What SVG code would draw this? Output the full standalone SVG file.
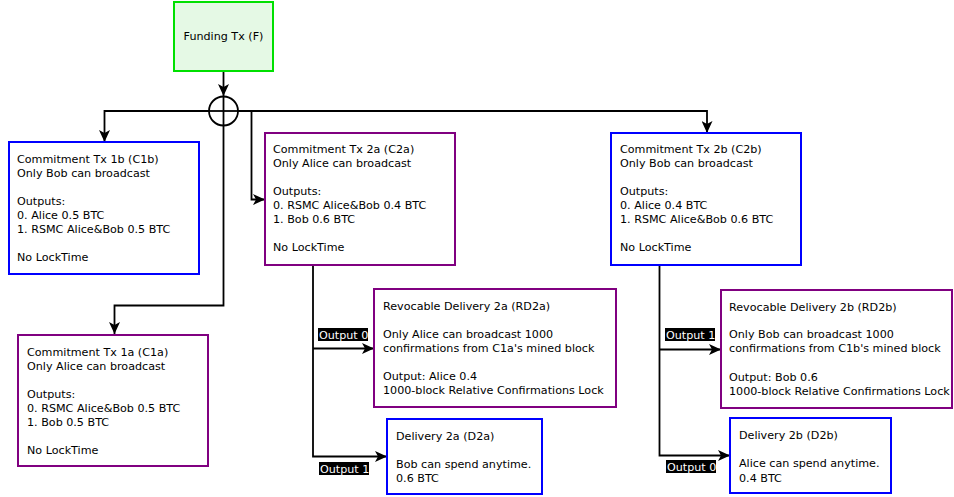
<svg xmlns="http://www.w3.org/2000/svg" width="954" height="497" viewBox="0 0 954 497">
<style>
text{font-family:"DejaVu Sans",sans-serif;font-size:11.15px;fill:#000}
.box{fill:#fff;stroke-width:2}
.blue{stroke:#0000ff}
.purple{stroke:#800080}
.green{stroke:#00e000;fill:#e5f9e5}
.conn{fill:none;stroke:#000;stroke-width:1.8}
.lbl{fill:#000}
.lt{fill:#fff}
</style>
<defs>
<marker id="arr" markerWidth="13" markerHeight="11" refX="12" refY="5.5" orient="auto" markerUnits="userSpaceOnUse">
<path d="M0,0 L12,5.5 L0,11 L3,5.5 z" fill="#000"/>
</marker>
</defs>
<g id="connectors">
<line class="conn" x1="223.5" y1="71" x2="223.5" y2="96" marker-end="url(#arr)"/>
<circle cx="223.5" cy="111" r="14.5" fill="none" stroke="#000" stroke-width="1.8"/>
<path class="conn" d="M223.5,96 V126"/>
<path class="conn" d="M209,111 H238"/>
<path class="conn" d="M209,111 H104.5 V142" marker-end="url(#arr)"/>
<path class="conn" d="M238,111 H707 V133" marker-end="url(#arr)"/>
<path class="conn" d="M251.5,111 V199.5 H265" marker-end="url(#arr)"/>
<path class="conn" d="M223.5,126 V305.5 H114.5 V334" marker-end="url(#arr)"/>
<path class="conn" d="M313,265 V456.5 H387" marker-end="url(#arr)"/>
<path class="conn" d="M313,348.5 H374" marker-end="url(#arr)"/>
<path class="conn" d="M659.5,265 V455.5 H730" marker-end="url(#arr)"/>
<path class="conn" d="M659.5,349.5 H721" marker-end="url(#arr)"/>
<rect class="lbl" x="318" y="328" width="50" height="13"/>
<text class="lt" x="319" y="338.5">Output 0</text>
<rect class="lbl" x="319" y="462" width="50" height="13"/>
<text class="lt" x="320" y="472.5">Output 1</text>
<rect class="lbl" x="665" y="328" width="50" height="13"/>
<text class="lt" x="666" y="338.5">Output 1</text>
<rect class="lbl" x="666" y="460" width="50" height="13"/>
<text class="lt" x="667" y="470.5">Output 0</text>
</g>
<g id="funding">
<rect class="box green" x="174" y="2" width="99" height="69"/>
<text x="223.5" y="40" text-anchor="middle">Funding Tx (F)</text>
</g>
<g id="c1b">
<rect class="box blue" x="9" y="142" width="190" height="132"/>
<text x="17" y="163">Commitment Tx 1b (C1b)</text>
<text x="17" y="177">Only Bob can broadcast</text>
<text x="17" y="205">Outputs:</text>
<text x="17" y="219">0. Alice 0.5 BTC</text>
<text x="17" y="233">1. RSMC Alice&amp;Bob 0.5 BTC</text>
<text x="17" y="261">No LockTime</text>
</g>
<g id="c2a">
<rect class="box purple" x="265" y="133" width="190" height="132"/>
<text x="273" y="153">Commitment Tx 2a (C2a)</text>
<text x="273" y="167">Only Alice can broadcast</text>
<text x="273" y="195">Outputs:</text>
<text x="273" y="209">0. RSMC Alice&amp;Bob 0.4 BTC</text>
<text x="273" y="223">1. Bob 0.6 BTC</text>
<text x="273" y="251">No LockTime</text>
</g>
<g id="c2b">
<rect class="box blue" x="611" y="133" width="190" height="132"/>
<text x="620" y="153">Commitment Tx 2b (C2b)</text>
<text x="620" y="167">Only Bob can broadcast</text>
<text x="620" y="195">Outputs:</text>
<text x="620" y="209">0. Alice 0.4 BTC</text>
<text x="620" y="223">1. RSMC Alice&amp;Bob 0.6 BTC</text>
<text x="620" y="251">No LockTime</text>
</g>
<g id="c1a">
<rect class="box purple" x="18" y="335" width="190" height="131"/>
<text x="27" y="356">Commitment Tx 1a (C1a)</text>
<text x="27" y="370">Only Alice can broadcast</text>
<text x="27" y="398">Outputs:</text>
<text x="27" y="412">0. RSMC Alice&amp;Bob 0.5 BTC</text>
<text x="27" y="426">1. Bob 0.5 BTC</text>
<text x="27" y="454">No LockTime</text>
</g>
<g id="rd2a">
<rect class="box purple" x="374" y="289" width="242" height="118"/>
<text x="383" y="310">Revocable Delivery 2a (RD2a)</text>
<text x="383" y="338">Only Alice can broadcast 1000</text>
<text x="383" y="352">confirmations from C1a's mined block</text>
<text x="383" y="380">Output: Alice 0.4</text>
<text x="383" y="394">1000-block Relative Confirmations Lock</text>
</g>
<g id="rd2b">
<rect class="box purple" x="721" y="290" width="231" height="118"/>
<text x="729" y="311">Revocable Delivery 2b (RD2b)</text>
<text x="729" y="338">Only Bob can broadcast 1000</text>
<text x="729" y="352">confirmations from C1b's mined block</text>
<text x="729" y="381">Output: Bob 0.6</text>
<text x="729" y="395">1000-block Relative Confirmations Lock</text>
</g>
<g id="d2a">
<rect class="box blue" x="387" y="419" width="155" height="75"/>
<text x="396" y="440">Delivery 2a (D2a)</text>
<text x="396" y="468">Bob can spend anytime.</text>
<text x="396" y="482">0.6 BTC</text>
</g>
<g id="d2b">
<rect class="box blue" x="730" y="418" width="161" height="75"/>
<text x="739" y="439">Delivery 2b (D2b)</text>
<text x="739" y="467">Alice can spend anytime.</text>
<text x="739" y="482">0.4 BTC</text>
</g>
</svg>
